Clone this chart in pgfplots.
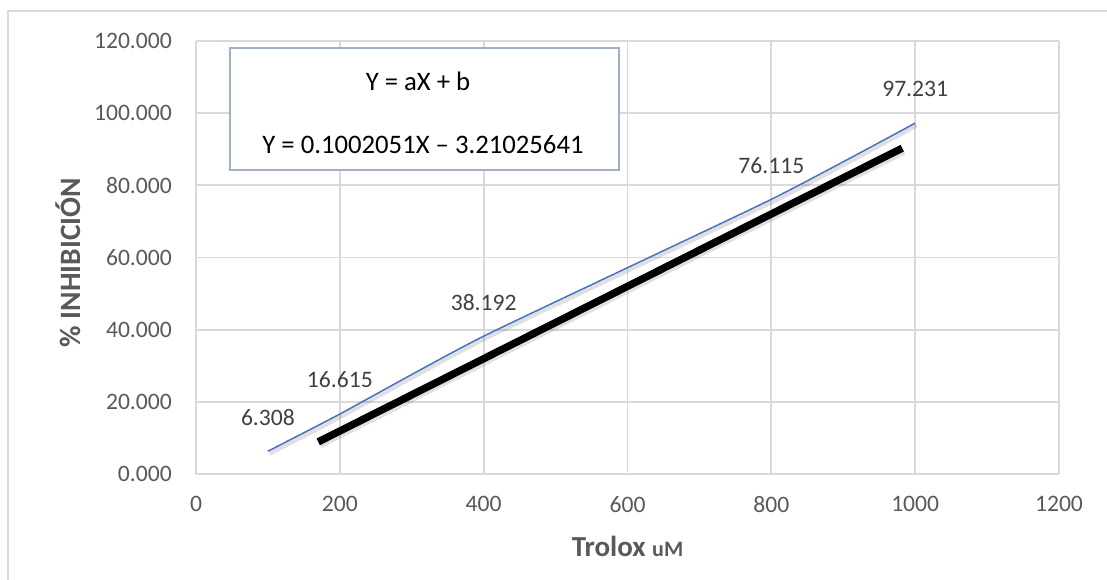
\documentclass[border=0pt]{standalone}
\usepackage{pgfplots}
\pgfplotsset{compat=1.18}
\usepackage{fontspec}
\setmainfont{Carlito}
\definecolor{tickgray}{RGB}{89,89,89}
\definecolor{gridgray}{RGB}{217,217,217}
\definecolor{xlblue}{RGB}{68,114,196}
\definecolor{boxblue}{RGB}{160,176,202}
\definecolor{lblgray}{RGB}{64,64,64}
\begin{document}
\begin{tikzpicture}[x=1bp,y=1bp]
\draw[gridgray, line width=2bp] (8,-5) -- (8,569) -- (1115,569);
\begin{axis}[
  at={(196bp,106bp)}, anchor=south west,
  width=863bp, height=433bp, scale only axis,
  xmin=0, xmax=1200, ymin=0, ymax=120,
  xtick={0,200,...,1200}, ytick={0,20,...,120},
  grid=major, major grid style={gridgray, line width=1.8bp},
  axis line style={draw=none}, major tick length=0pt,
  /pgf/number format/assume math mode=true,
  /pgf/number format/1000 sep={},
  ticklabel style={font=\fontsize{23.6bp}{28bp}\selectfont, text=tickgray},
  yticklabel style={/pgf/number format/.cd, fixed, fixed zerofill, precision=3, /tikz/.cd, anchor=east, inner sep=0pt, xshift=-24bp},
  xticklabel style={anchor=north, inner sep=0pt, yshift=-22bp},
  xlabel={\textbf{Trolox} {\fontsize{22bp}{26bp}\selectfont\textbf{uM}}},
  xlabel style={at={(axis description cs:0.5,-0.1663)}, anchor=center, font=\fontsize{29bp}{34bp}\selectfont, text=tickgray},
  ylabel={\textbf{\% INHIBICIÓN}},
  ylabel style={at={(axis description cs:-0.1483,0.488)}, anchor=center, font=\fontsize{29.5bp}{34bp}\selectfont, text=tickgray},
  clip=false,
]
\addplot[black, opacity=0.12, line width=4bp, smooth, tension=0.3, transform canvas={xshift=1.5bp,yshift=-2.5bp}]
  coordinates {(100,6.308) (200,16.615) (400,38.192) (800,76.115) (1000,97.231)};
\addplot[xlblue, line width=1.5bp, smooth, tension=0.3,
  nodes near coords={\pgfmathprintnumber[assume math mode=true,fixed,fixed zerofill,precision=3]{\pgfplotspointmeta}},
  nodes near coords style={anchor=center, yshift=34bp, font=\fontsize{23.6bp}{28bp}\selectfont, text=lblgray}]
  coordinates {(100,6.308) (200,16.615) (400,38.192) (800,76.115) (1000,97.231)};
\addplot[black, opacity=0.12, line width=8bp, transform canvas={xshift=1.5bp,yshift=-2.5bp}]
  coordinates {(170,8.9) (982,90.3)};
\addplot[black, line width=7.4bp] coordinates {(170,8.9) (982,90.3)};
\draw[boxblue, line width=1.8bp, fill=white] (axis cs:47.3,84.2) rectangle (axis cs:588,118.1);
\node[font=\fontsize{26.7bp}{32bp}\selectfont, anchor=center] at (axis cs:308.7,108.9) {Y = aX + b};
\node[font=\fontsize{26.7bp}{32bp}\selectfont, anchor=center] at (axis cs:315.6,91.4) {Y = 0.1002051X – 3.21025641};
\end{axis}
\pgfresetboundingbox
\useasboundingbox (0,0) rectangle (1107,580);
\end{tikzpicture}
\end{document}
